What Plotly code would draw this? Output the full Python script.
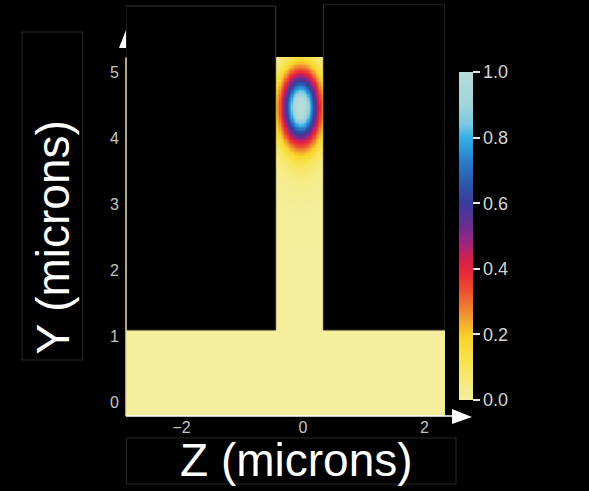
import numpy as np
import plotly.graph_objects as go

# --- geometry of the T-shaped guide (microns) ---
z_domain = [-2.914, 2.337]          # horizontal extent of the computational window
y_domain = [-0.212, 6.03]           # vertical extent
base_y = [-0.212, 1.09]             # slab at the bottom
stem_z = [-0.45, 0.335]             # vertical ridge
stem_top = 5.22

# --- guided-mode intensity (normalised) ---
mode_center = [-0.04, 4.47]         # (z, y)
mode_sigma = [0.225, 0.38]          # (z, y)
tail_center_y = 3.9
tail_sigma = [0.3, 0.5]
tail_amp = 0.05

# --- ticks ---
y_ticks = [0, 1, 2, 3, 4, 5]
z_ticks = [-2, 0, 2]
cbar_ticks = [0.0, 0.2, 0.4, 0.6, 0.8, 1.0]

# colour map of the intensity scale
cmap_pos = [0.0, 0.06, 0.12, 0.19, 0.22, 0.27, 0.33, 0.39, 0.43, 0.47, 0.53, 0.6, 0.66, 0.73, 0.8, 0.84, 0.9, 1.0]
cmap_col = ["#f5ee9c", "#f6e978", "#f7e350", "#f8d52a", "#f6b92c", "#f08a30", "#ec5030", "#e8283a",
            "#d41f4c", "#a6237a", "#6a2e90", "#3b3b9b", "#2a58aa", "#2a7fcc", "#34b0e6", "#7cc8e2",
            "#a0d4dc", "#b8dcd8"]

step = 0.02
zg = np.arange(z_domain[0] + step / 2, z_domain[1], step)
yg = np.arange(y_domain[0] + step / 2, y_domain[1], step)
Z, Y = np.meshgrid(zg, yg)

field = np.exp(-((Z - mode_center[0]) ** 2 / (2 * mode_sigma[0] ** 2)
                 + (Y - mode_center[1]) ** 2 / (2 * mode_sigma[1] ** 2)))
field += tail_amp * np.exp(-((Z - mode_center[0]) ** 2 / (2 * tail_sigma[0] ** 2)
                             + (Y - tail_center_y) ** 2 / (2 * tail_sigma[1] ** 2)))
field = np.clip(field, 0, 1)

in_base = (Y >= base_y[0]) & (Y <= base_y[1])
in_stem = (Z >= stem_z[0]) & (Z <= stem_z[1]) & (Y <= stem_top)
inside = in_base | in_stem
zvals = np.where(inside, np.round(field, 3), np.nan)
zlist = [[None if np.isnan(v) else float(v) for v in row] for row in zvals]

W, H = 589, 491
ml, mr, mt, mb = 126, 144, 4, 75
pw, ph = W - ml - mr, H - mt - mb


def px_x(p):
    return (p - ml) / pw


def px_y(p):
    return (H - mb - p) / ph


def tri_path(pts):
    return "M " + " L ".join(f"{px_x(a):.4f},{px_y(b):.4f}" for a, b in pts) + " Z"


narrow = "Liberation Sans Narrow, Arial Narrow, Liberation Sans, sans-serif"

fig = go.Figure()
fig.add_trace(go.Heatmap(
    x=zg, y=yg, z=zlist, zmin=0, zmax=1, zsmooth=False,
    colorscale=[[p, c] for p, c in zip(cmap_pos, cmap_col)],
    hoverongaps=False,
    colorbar=dict(
        x=px_x(459), xanchor="left", xpad=0, ypad=0,
        y=px_y(72), yanchor="top", lenmode="pixels", len=328,
        thickness=14, outlinewidth=0,
        tickvals=cbar_ticks, ticktext=[f"{t:.1f}" for t in cbar_ticks],
        ticks="outside", ticklen=7, tickwidth=1.5, tickcolor="#e8e8e8",
        tickfont=dict(family=narrow, size=18, color="#d4d4d4"),
    ),
))

shapes = []
# axis arrow heads (the vertical one sits half behind the left cladding block)
shapes.append(dict(type="path", xref="paper", yref="paper",
                   path=tri_path([(126, 30), (133, 48), (119, 48)]),
                   fillcolor="white", line=dict(width=0), layer="above"))
shapes.append(dict(type="path", xref="paper", yref="paper",
                   path=tri_path([(452, 409), (472, 417), (452, 424)]),
                   fillcolor="white", line=dict(width=0), layer="above"))
# cladding blocks either side of the ridge
for x0, x1, ytop in [(z_domain[0], stem_z[0], 6.0), (stem_z[1], z_domain[1], 6.03)]:
    shapes.append(dict(type="rect", xref="x", yref="y", x0=x0, x1=x1, y0=base_y[1], y1=ytop,
                       fillcolor="black", line=dict(color="#3a3636", width=1), layer="above"))
# axis lines
shapes.append(dict(type="line", xref="paper", yref="paper", x0=0, x1=px_x(453), y0=0, y1=0,
                   line=dict(color="white", width=1.5), layer="above"))
shapes.append(dict(type="line", xref="paper", yref="y", x0=0, x1=0, y0=y_domain[0], y1=stem_top,
                   line=dict(color="#e6dca8", width=1.5), layer="above"))
# frames around the axis titles
shapes.append(dict(type="rect", xref="paper", yref="paper", x0=px_x(22), x1=px_x(82.5),
                   y0=px_y(360), y1=px_y(32), line=dict(color="#2a2626", width=1), layer="above"))
shapes.append(dict(type="rect", xref="paper", yref="paper", x0=px_x(126.5), x1=px_x(456),
                   y0=px_y(484), y1=px_y(438), line=dict(color="#2a2626", width=1), layer="above"))

title_font = dict(family="Liberation Sans", size=46, color="white")
annotations = [
    dict(text="Y (microns)", xref="paper", yref="paper", x=px_x(52), y=px_y(237.5),
         xanchor="center", yanchor="middle", textangle=-90, showarrow=False, font=title_font),
    dict(text="Z (microns)", xref="paper", yref="paper", x=px_x(296.5), y=px_y(460),
         xanchor="center", yanchor="middle", showarrow=False, font=title_font),
]

tick_font = dict(family=narrow, size=16, color="#c4c4c4")
fig.update_layout(
    width=W, height=H, margin=dict(l=ml, r=mr, t=mt, b=mb),
    paper_bgcolor="black", plot_bgcolor="black",
    shapes=shapes, annotations=annotations, showlegend=False,
    xaxis=dict(range=z_domain, tickvals=z_ticks, showgrid=False, zeroline=False, showline=False,
               ticks="", tickfont=tick_font, ticklabelstandoff=0),
    yaxis=dict(range=y_domain, tickvals=y_ticks, showgrid=False, zeroline=False, showline=False,
               ticks="", tickfont=tick_font, ticklabelstandoff=6),
)

fig.write_html("out.html")
